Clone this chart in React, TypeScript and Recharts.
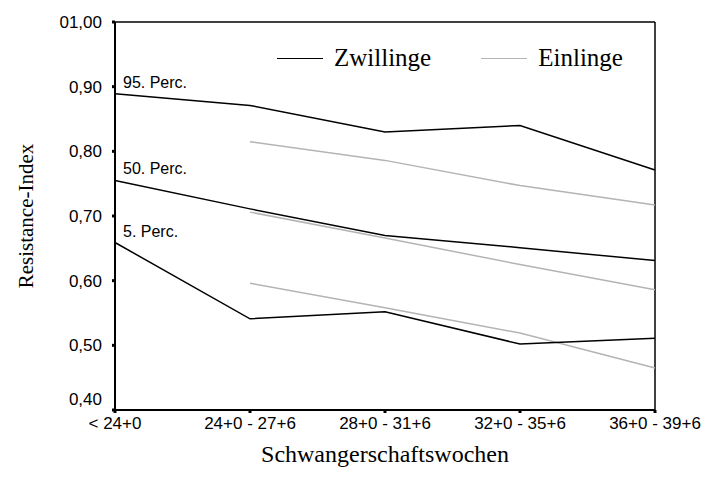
import {
  Label,
  LabelList,
  Line,
  LineChart,
  ReferenceLine,
  XAxis,
  YAxis,
} from "recharts";

const weeks = ["< 24+0", "24+0 - 27+6", "28+0 - 31+6", "32+0 - 35+6", "36+0 - 39+6"];

const twins95 = [0.889, 0.871, 0.83, 0.84, 0.771];
const twins50 = [0.755, 0.711, 0.67, 0.651, 0.631];
const twins5 = [0.659, 0.541, 0.552, 0.502, 0.511];

const single95 = [null, 0.815, 0.786, 0.747, 0.717];
const single50 = [null, 0.706, 0.666, 0.625, 0.586];
const single5 = [null, 0.596, 0.558, 0.519, 0.465];

const percLabels = ["95. Perc.", "50. Perc.", "5. Perc."];
const yTicks = [0.4, 0.5, 0.6, 0.7, 0.8, 0.9, 1.0];

const data = weeks.map((w, i) => ({
  idx: i,
  z95: twins95[i],
  z50: twins50[i],
  z5: twins5[i],
  e95: single95[i],
  e50: single50[i],
  e5: single5[i],
}));

const BLACK = "#000";
const GRAY = "#b4b4b4";
const sans = "'Liberation Sans', Arial, sans-serif";
const serif = "'Liberation Serif', 'Times New Roman', serif";

const fmtY = (v: number) => (v >= 1 ? "01,00" : v.toFixed(2).replace(".", ","));

// y tick: bottom label sits a bit above its tick, like the original
function YTick(props: any) {
  const { x, y, payload } = props;
  const shift = payload.value <= 0.4 ? -11 : 0;
  return (
    <text x={x} y={y + shift} dy="0.35em" textAnchor="end" fontSize={17} fontFamily={sans} fill="#000">
      {fmtY(payload.value)}
    </text>
  );
}

function firstPointLabel(text: string) {
  return (props: any) => {
    if (props.index !== 0) return null;
    return (
      <text x={props.x + 8} y={props.y - 6} fontSize={16} fontFamily={sans} fill="#000">
        {text}
      </text>
    );
  };
}

function LegendBox() {
  const item = (color: string, name: string, gap: number) => (
    <div style={{ display: "flex", alignItems: "center", marginRight: gap }}>
      <div style={{ width: 46, height: 0, borderTop: `1.5px solid ${color}`, marginRight: 11 }} />
      <span style={{ fontFamily: serif, fontSize: 25, color: "#000", lineHeight: "28px" }}>{name}</span>
    </div>
  );
  return (
    <div style={{ position: "absolute", left: 277, top: 44, display: "flex" }}>
      {item(BLACK, "Zwillinge", 50)}
      {item(GRAY, "Einlinge", 0)}
    </div>
  );
}

export default function App() {
  return (
    <div style={{ position: "absolute", left: 0, top: 0, width: 704, height: 493, background: "#fff" }}>
      <LineChart width={704} height={493} data={data} margin={{ top: 22, right: 49, bottom: 0, left: 0 }}>
        <XAxis
          dataKey="idx"
          type="number"
          domain={[0, 4]}
          ticks={[0, 1, 2, 3, 4]}
          tickFormatter={(v) => weeks[v]}
          height={83}
          stroke={BLACK}
          strokeWidth={2}
          tickSize={3}
          tickMargin={4}
          tickLine={{ stroke: BLACK, strokeWidth: 3 }}
          tick={{ fill: "#000", fontSize: 17, fontFamily: sans }}
          interval={0}
        >
          <Label
            value="Schwangerschaftswochen"
            position="insideBottom"
            offset={31}
            style={{ fontFamily: serif, fontSize: 24, fill: "#000" }}
          />
        </XAxis>
        <YAxis
          type="number"
          domain={[0.4, 1.0]}
          ticks={yTicks}
          width={115}
          stroke={BLACK}
          strokeWidth={2}
          tickSize={3}
          tickLine={{ stroke: BLACK, strokeWidth: 3 }}
          tick={<YTick />}
          tickMargin={10}
        >
          <Label
            value="Resistance-Index"
            angle={-90}
            position="insideLeft"
            offset={26}
            style={{ fontFamily: serif, fontSize: 21, fill: "#000", textAnchor: "middle" }}
          />
        </YAxis>
        <ReferenceLine y={1.0} stroke={BLACK} strokeWidth={1.5} />
        <ReferenceLine x={4} stroke={BLACK} strokeWidth={1.5} />
        <Line dataKey="e95" stroke={GRAY} strokeWidth={1.5} dot={false} isAnimationActive={false} />
        <Line dataKey="e50" stroke={GRAY} strokeWidth={1.5} dot={false} isAnimationActive={false} />
        <Line dataKey="e5" stroke={GRAY} strokeWidth={1.5} dot={false} isAnimationActive={false} />
        <Line dataKey="z95" stroke={BLACK} strokeWidth={1.5} dot={false} isAnimationActive={false}>
          <LabelList dataKey="z95" content={firstPointLabel(percLabels[0])} />
        </Line>
        <Line dataKey="z50" stroke={BLACK} strokeWidth={1.5} dot={false} isAnimationActive={false}>
          <LabelList dataKey="z50" content={firstPointLabel(percLabels[1])} />
        </Line>
        <Line dataKey="z5" stroke={BLACK} strokeWidth={1.5} dot={false} isAnimationActive={false}>
          <LabelList dataKey="z5" content={firstPointLabel(percLabels[2])} />
        </Line>
      </LineChart>
      <LegendBox />
    </div>
  );
}
